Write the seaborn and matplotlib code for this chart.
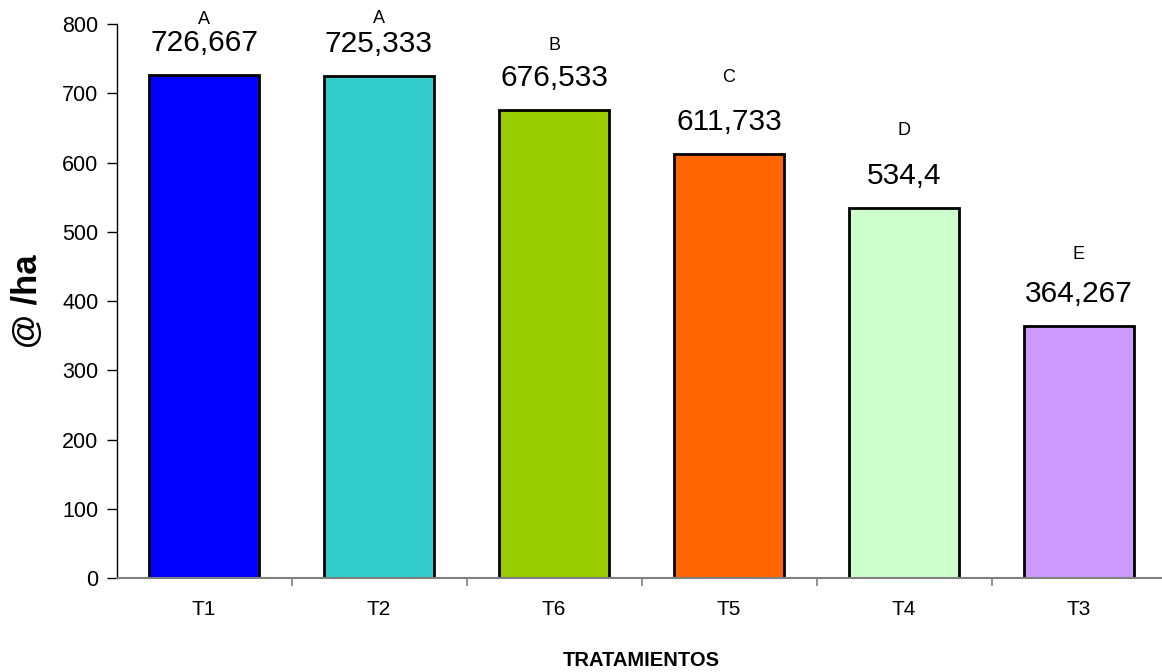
import matplotlib
matplotlib.use("Agg")
import matplotlib.pyplot as plt
import seaborn as sns
import pandas as pd
import numpy as np

sns.set_style("white")
plt.rcParams['font.family'] = ['Liberation Sans', 'DejaVu Sans']
plt.rcParams['text.color'] = 'black'
plt.rcParams['xtick.color'] = 'black'
plt.rcParams['ytick.color'] = 'black'
plt.rcParams['axes.labelcolor'] = 'black'

# Treatment yields
tratamientos = ["T1", "T2", "T6", "T5", "T4", "T3"]
rendimiento = [726.667, 725.333, 676.533, 611.733, 534.4, 364.267]
etiquetas = ["726,667", "725,333", "676,533", "611,733", "534,4", "364,267"]
letras = ["A", "A", "B", "C", "D", "E"]
colores = ["#0000FF", "#33CCCC", "#99CC00", "#FF6600", "#CCFFCC", "#CC99FF"]
yticks = [0, 100, 200, 300, 400, 500, 600, 700, 800]

# Vertical offsets (points) of the significance letters above each bar
letra_offset = [40, 41, 46, 55, 56, 51]

df = pd.DataFrame({"trat": tratamientos, "val": rendimiento})

fig = plt.figure(figsize=(11.62, 6.72), dpi=100)
ax = fig.add_axes([116.5 / 1162, 94 / 672, 1050 / 1162, 554 / 672])

sns.barplot(data=df, x="trat", y="val", hue="trat", palette=colores,
            order=tratamientos, hue_order=tratamientos, legend=False,
            width=0.63, edgecolor="black", linewidth=2, ax=ax, saturation=1)

ax.set_xlim(-0.5, len(tratamientos) - 0.5)
ax.set_ylim(0, 800)
ax.set_yticks(yticks)
ax.set_yticklabels([str(v) for v in yticks], fontsize=15.5)
ax.tick_params(axis="y", direction="out", length=7, width=1, color="black", pad=6, left=True)

ax.set_xticks(range(len(tratamientos)))
ax.set_xticklabels(tratamientos, fontsize=15)
ax.tick_params(axis="x", which="major", length=0, pad=16)
ax.set_xticks(np.arange(0.5, len(tratamientos) - 0.5, 1.0), minor=True)
ax.tick_params(axis="x", which="minor", direction="out", length=6, width=1.2, color="#808080", bottom=True)

for side in ["top", "right"]:
    ax.spines[side].set_visible(False)
ax.spines["left"].set_color("black")
ax.spines["left"].set_linewidth(1)
ax.spines["bottom"].set_color("#808080")
ax.spines["bottom"].set_linewidth(1.5)

for i, (v, lab, let, off) in enumerate(zip(rendimiento, etiquetas, letras, letra_offset)):
    ax.annotate(lab, (i, v), xytext=(0, 23), textcoords="offset points",
                ha="center", va="center", fontsize=21.5)
    ax.annotate(let, (i, v), xytext=(0, off), textcoords="offset points",
                ha="center", va="center", fontsize=13)

ax.set_xlabel("TRATAMIENTOS", fontsize=14.5, fontweight="bold")
ax.xaxis.label.set_va("center")
ax.xaxis.set_label_coords(0.5, (578 - 660) / 554)
ax.set_ylabel("@ /ha", fontsize=25, fontweight="bold")
ax.yaxis.label.set_va("center")
ax.yaxis.set_label_coords((27 - 116.5) / 1050, 0.5)

fig.savefig("out.png", dpi=100)
